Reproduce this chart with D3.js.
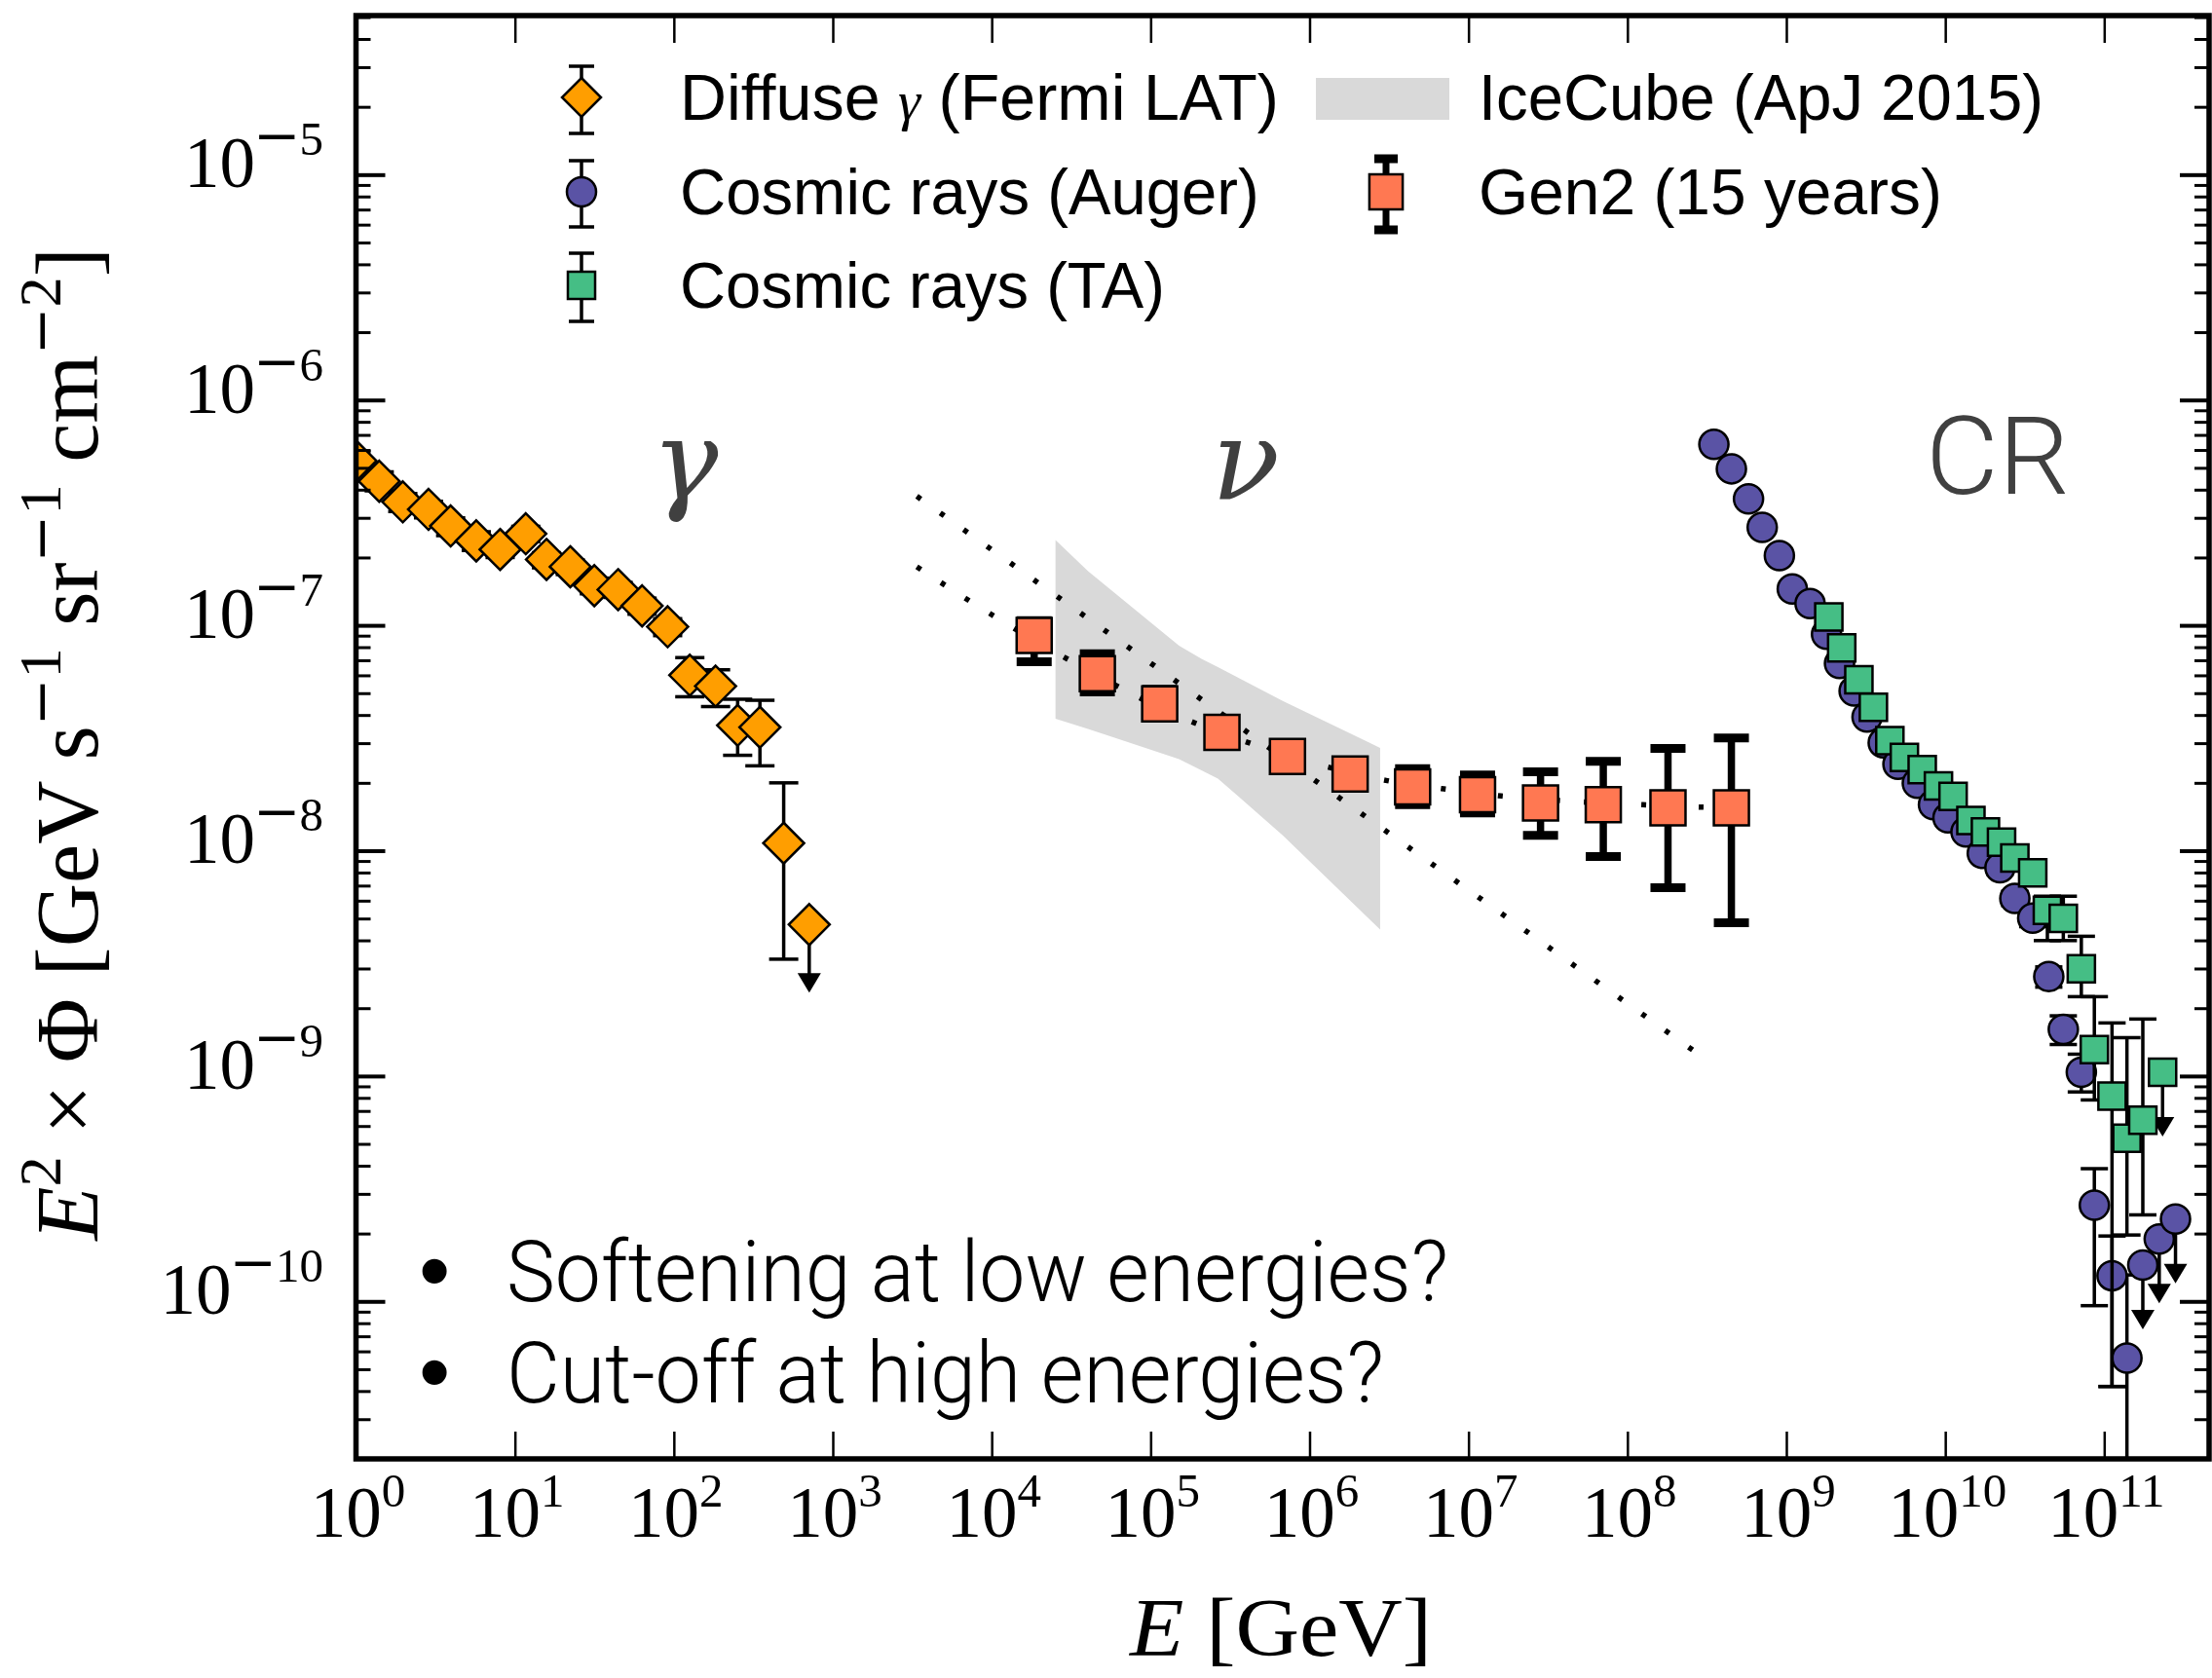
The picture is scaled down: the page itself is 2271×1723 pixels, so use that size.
<!DOCTYPE html>
<html><head><meta charset="utf-8">
<script src="https://cdn.jsdelivr.net/npm/d3@7"></script>
<style>body{margin:0;background:#fff}svg{display:block;background:#fff}</style>
</head><body>
<svg id="chart" width="2271" height="1723"></svg>
<script>
// ---------------- DATA ----------------
// Axis tick values
const xTickValues = [1e0,1e1,1e2,1e3,1e4,1e5,1e6,1e7,1e8,1e9,1e10,1e11];
const yTickValues = [1e-10,1e-9,1e-8,1e-7,1e-6,1e-5];
const xDomain = [1, 4.57e11];
const yDomain = [2.0e-11, 5.08e-5];

// Diffuse gamma (Fermi LAT)
const fermiE  = [1.00,1.40,1.97,2.86,3.94,5.71,8.07,11.7,15.8,22.3,31.6,44.6,63.1,91.4,126,183,252,348,491,711];
const fermiF  = [5.37e-7,4.36e-7,3.53e-7,3.27e-7,2.76e-7,2.37e-7,2.17e-7,2.55e-7,1.96e-7,1.82e-7,1.50e-7,1.44e-7,1.22e-7,9.86e-8,6.01e-8,5.37e-8,3.60e-8,3.53e-8,1.08e-8,4.70e-9];
const fermiHi = [5.9e-7,4.8e-7,3.85e-7,3.55e-7,3.0e-7,2.6e-7,2.35e-7,2.75e-7,2.1e-7,1.95e-7,1.62e-7,1.55e-7,1.32e-7,1.07e-7,7.19e-8,6.35e-8,4.70e-8,4.65e-8,2.00e-8,4.70e-9];
const fermiLo = [4.9e-7,3.95e-7,3.2e-7,3.0e-7,2.5e-7,2.15e-7,2.0e-7,2.35e-7,1.8e-7,1.68e-7,1.38e-7,1.33e-7,1.12e-7,9.0e-8,4.82e-8,4.36e-8,2.65e-8,2.38e-8,3.30e-9,4.70e-9];
const fermiUL = [0,0,0,0,0,0,0,0,0,0,0,0,0,0,0,0,0,0,0,1];

// Cosmic rays (Auger)
const augerE  = [3.50e8,4.51e8,5.78e8,7.05e8,9.04e8,1.09e9,1.41e9,1.79e9,2.16e9,2.67e9,3.22e9,4.07e9,5.04e9,6.67e9,8.43e9,1.04e10,1.35e10,1.71e10,2.21e10,2.74e10,3.55e10,4.48e10,5.53e10,7.18e10,8.67e10,1.12e11,1.39e11,1.75e11,2.22e11,2.81e11];
const augerF  = [6.35e-7,4.95e-7,3.64e-7,2.72e-7,2.04e-7,1.45e-7,1.25e-7,9.12e-8,6.78e-8,5.11e-8,3.92e-8,3.01e-8,2.42e-8,1.99e-8,1.60e-8,1.40e-8,1.21e-8,9.73e-9,8.40e-9,6.14e-9,5.02e-9,2.76e-9,1.61e-9,1.04e-9,2.67e-10,1.30e-10,5.60e-11,1.45e-10,1.89e-10,2.32e-10];
const augerHi = [6.55e-7,5.1e-7,3.75e-7,2.8e-7,2.1e-7,1.5e-7,1.29e-7,9.4e-8,7.0e-8,5.27e-8,4.05e-8,3.11e-8,2.5e-8,2.06e-8,1.66e-8,1.46e-8,1.27e-8,1.03e-8,8.95e-9,6.6e-9,5.45e-9,3.05e-9,1.85e-9,1.25e-9,3.88e-10,1.95e-10,1.31e-10,1.45e-10,1.89e-10,2.32e-10];
const augerLo = [6.15e-7,4.8e-7,3.53e-7,2.64e-7,1.98e-7,1.4e-7,1.21e-7,8.85e-8,6.56e-8,4.95e-8,3.79e-8,2.91e-8,2.34e-8,1.92e-8,1.54e-8,1.34e-8,1.15e-8,9.2e-9,7.85e-9,5.7e-9,4.6e-9,2.48e-9,1.38e-9,8.5e-10,9.57e-11,4.19e-11,1.0e-12,1.45e-10,1.89e-10,2.32e-10];
const augerUL = [0,0,0,0,0,0,0,0,0,0,0,0,0,0,0,0,0,0,0,0,0,0,0,0,0,0,0,1,1,1];

// Cosmic rays (TA)
const taE  = [1.85e9,2.23e9,2.86e9,3.53e9,4.48e9,5.53e9,7.16e9,9.06e9,1.12e10,1.45e10,1.79e10,2.26e10,2.74e10,3.55e10,4.39e10,5.53e10,7.18e10,8.67e10,1.12e11,1.39e11,1.75e11,2.33e11];
const taF  = [1.09e-7,7.94e-8,5.74e-8,4.33e-8,3.08e-8,2.59e-8,2.29e-8,1.94e-8,1.74e-8,1.36e-8,1.21e-8,1.09e-8,9.27e-9,7.98e-9,5.44e-9,5.01e-9,2.99e-9,1.31e-9,8.15e-10,5.30e-10,6.37e-10,1.04e-9];
const taHi = [1.13e-7,8.2e-8,5.93e-8,4.48e-8,3.2e-8,2.7e-8,2.39e-8,2.03e-8,1.83e-8,1.44e-8,1.29e-8,1.17e-8,1.0e-8,8.75e-9,6.28e-9,6.28e-9,4.17e-9,2.25e-9,1.72e-9,1.48e-9,1.79e-9,1.04e-9];
const taLo = [1.05e-7,7.68e-8,5.55e-8,4.18e-8,2.96e-8,2.48e-8,2.19e-8,1.85e-8,1.65e-8,1.28e-8,1.13e-8,1.01e-8,8.55e-9,7.25e-9,3.99e-9,3.99e-9,2.25e-9,7.83e-10,4.19e-11,1.97e-10,2.42e-10,1.04e-9];
const taUL = [0,0,0,0,0,0,0,0,0,0,0,0,0,0,0,0,0,0,0,0,0,1];

// Gen2 (15 years)
const gen2E  = [1.85e4,4.62e4,1.14e5,2.81e5,7.26e5,1.80e6,4.45e6,1.14e7,2.84e7,7.05e7,1.80e8,4.51e8];
const gen2F  = [9.02e-8,6.10e-8,4.48e-8,3.35e-8,2.62e-8,2.19e-8,1.92e-8,1.77e-8,1.63e-8,1.60e-8,1.55e-8,1.55e-8];
const gen2Hi = [1.05e-7,7.48e-8,5.2e-8,3.85e-8,3.0e-8,2.5e-8,2.31e-8,2.17e-8,2.24e-8,2.49e-8,2.84e-8,3.16e-8];
const gen2Lo = [6.90e-8,5.06e-8,3.9e-8,2.9e-8,2.3e-8,1.92e-8,1.60e-8,1.47e-8,1.17e-8,9.42e-9,6.85e-9,4.79e-9];

// IceCube (ApJ 2015) band
const icecubeE  = [2.52e4,4.04e4,1.51e5,2.09e5,2.65e5,6.78e5,2.78e6];
const icecubeHi = [2.39e-7,1.74e-7,8.13e-8,7.11e-8,6.52e-8,4.62e-8,2.86e-8];
const icecubeLo = [3.85e-8,3.47e-8,2.55e-8,2.27e-8,2.09e-8,1.17e-8,4.47e-9];

// Dotted neutrino model lines
const nuUpperE = [3.38e3,2.59e8];
const nuUpperF = [3.74e-7,1.30e-9];
const nuLowerE = [3.38e3,6.81e3,2.84e4,1.82e5,4.05e5,1.34e6,3.03e6,7.00e6,1.60e7,1.25e8,2.97e8,4.17e8];
const nuLowerF = [1.82e-7,1.32e-7,7.24e-8,3.73e-8,3.03e-8,2.34e-8,2.05e-8,1.88e-8,1.75e-8,1.60e-8,1.56e-8,1.55e-8];

// Texts
const legendLabels = ["Diffuse ", "γ", " (Fermi LAT)", "Cosmic rays (Auger)", "Cosmic rays (TA)", "IceCube (ApJ 2015)", "Gen2 (15 years)"];
const bulletLabels = ["Softening at low energies?", "Cut-off at high energies?"];
const regionLabels = ["γ", "ν", "CR"];

// ---------------- CHART ----------------
const svg = d3.select("#chart");
const PL = 365.5, PR = 2268, PT = 16, PB = 1498;
const x = d3.scaleLog().domain(xDomain).range([PL, PR]);
const y = d3.scaleLog().domain(yDomain).range([PB, PT]);

const C = {fermi:"#ff9e00", auger:"#5a53a5", ta:"#45be85", gen2:"#ff7852", band:"#d9d9d9", note:"#404040"};
const SERIF = "'Liberation Serif','Times New Roman',serif";
const MINUS_FONT = "'DejaVu Serif',serif";
const SANS = "'Liberation Sans',Arial,sans-serif";
const LIGHT = "Roboto,'Liberation Sans',sans-serif";

svg.append("defs").append("clipPath").attr("id","clip")
  .append("rect").attr("x",PL).attr("y",PT).attr("width",PR-PL).attr("height",PB-PT);
const plot = svg.append("g").attr("clip-path","url(#clip)");

const zip = (E,F) => E.map((e,i)=>({E:e, F:F[i]}));
const pts = (E,F,hi,lo,ul) => E.map((e,i)=>({E:e,F:F[i],hi:hi[i],lo:lo[i],ul:!!(ul && ul[i])}));

// IceCube band
plot.append("path")
  .datum(icecubeE.map((e,i)=>({E:e, hi:icecubeHi[i], lo:icecubeLo[i]})))
  .attr("d", d3.area().x(d=>x(d.E)).y0(d=>y(d.lo)).y1(d=>y(d.hi)))
  .attr("fill", C.band);

// Dotted lines
plot.append("path").datum(zip(nuUpperE,nuUpperF))
  .attr("d", d3.line().x(d=>x(d.E)).y(d=>y(d.F)))
  .attr("fill","none").attr("stroke","#000").attr("stroke-width",5.5).attr("stroke-dasharray","5 24.5");
plot.append("path").datum(zip(nuLowerE,nuLowerF))
  .attr("d", d3.line().x(d=>x(d.E)).y(d=>y(d.F)).curve(d3.curveMonotoneX))
  .attr("fill","none").attr("stroke","#000").attr("stroke-width",5.5).attr("stroke-dasharray","5 24.5");

function markerPath(shape, s) {
  if (shape==="diamond") return `M0,${-s}L${s},0L0,${s}L${-s},0Z`;
  if (shape==="square") return `M${-s},${-s}H${s}V${s}H${-s}Z`;
  if (shape==="rect") return `M${-s*0.95},${-s}H${s*0.95}V${s}H${-s*0.95}Z`;
  return d3.arc()({innerRadius:0,outerRadius:s,startAngle:0,endAngle:2*Math.PI});
}

function drawSeries(data, o) {
  const g = plot.append("g");
  const bars = g.append("g").attr("stroke","#000").attr("stroke-width",o.lw).attr("fill","#000");
  const normal = data.filter(d=>!d.ul), ul = data.filter(d=>d.ul);
  bars.selectAll("line.v").data(normal).join("line").attr("class","v")
    .attr("x1",d=>x(d.E)).attr("x2",d=>x(d.E)).attr("y1",d=>y(d.hi)).attr("y2",d=>y(d.lo));
  bars.selectAll("line.ct").data(normal).join("line").attr("class","ct").attr("stroke-width",o.capLw)
    .attr("x1",d=>x(d.E)-o.capW/2).attr("x2",d=>x(d.E)+o.capW/2).attr("y1",d=>y(d.hi)).attr("y2",d=>y(d.hi));
  bars.selectAll("line.cb").data(normal).join("line").attr("class","cb").attr("stroke-width",o.capLw)
    .attr("x1",d=>x(d.E)-o.capW/2).attr("x2",d=>x(d.E)+o.capW/2).attr("y1",d=>y(d.lo)).attr("y2",d=>y(d.lo));
  bars.selectAll("line.u").data(ul).join("line").attr("class","u")
    .attr("x1",d=>x(d.E)).attr("x2",d=>x(d.E)).attr("y1",d=>y(d.F)).attr("y2",d=>y(d.F)+o.arrow-10);
  bars.selectAll("path.h").data(ul).join("path").attr("class","h").attr("stroke","none")
    .attr("d",d=>{const cx=x(d.E), ty=y(d.F)+o.arrow; return `M${cx-12},${ty-20}L${cx+12},${ty-20}L${cx},${ty}Z`;});
  g.append("g").selectAll("path").data(data).join("path")
    .attr("transform",d=>`translate(${x(d.E)},${y(d.F)})`)
    .attr("d", markerPath(o.shape, o.size))
    .attr("fill", o.color).attr("stroke","#000").attr("stroke-width",2.5);
}

drawSeries(pts(fermiE,fermiF,fermiHi,fermiLo,fermiUL), {shape:"diamond", size:21, color:C.fermi, lw:3.5, capW:30, capLw:3.5, arrow:70});
drawSeries(pts(augerE,augerF,augerHi,augerLo,augerUL), {shape:"circle", size:15, color:C.auger, lw:3.5, capW:28, capLw:3.5, arrow:66});
drawSeries(pts(taE,taF,taHi,taLo,taUL), {shape:"square", size:14, color:C.ta, lw:3.5, capW:28, capLw:3.5, arrow:66});
drawSeries(pts(gen2E,gen2F,gen2Hi,gen2Lo,null), {shape:"square", size:18, color:C.gen2, lw:7.5, capW:36, capLw:9, arrow:0});

// ---------------- AXES ----------------
const yMinor = [];
for (let d=-11; d<=-5; d++) for (let m=2; m<=9; m++) { const v = m*Math.pow(10,d); if (v>yDomain[0] && v<yDomain[1]) yMinor.push(v); }

function styleAxis(g, w) {
  g.select(".domain").remove();
  g.selectAll(".tick line").attr("stroke","#000").attr("stroke-width",w);
  g.selectAll(".tick text").remove();
}
styleAxis(svg.append("g").attr("transform",`translate(0,${PB})`).call(d3.axisBottom(x).tickValues(xTickValues).tickSize(-28).tickFormat("")), 2.5);
styleAxis(svg.append("g").attr("transform",`translate(0,${PT})`).call(d3.axisTop(x).tickValues(xTickValues).tickSize(-28).tickFormat("")), 2.5);
styleAxis(svg.append("g").attr("transform",`translate(${PL},0)`).call(d3.axisLeft(y).tickValues(yTickValues).tickSize(-30).tickFormat("")), 4);
styleAxis(svg.append("g").attr("transform",`translate(${PL},0)`).call(d3.axisLeft(y).tickValues(yMinor).tickSize(-15).tickFormat("")), 3);
styleAxis(svg.append("g").attr("transform",`translate(${PR},0)`).call(d3.axisRight(y).tickValues(yTickValues).tickSize(-30).tickFormat("")), 4);
styleAxis(svg.append("g").attr("transform",`translate(${PR},0)`).call(d3.axisRight(y).tickValues(yMinor).tickSize(-15).tickFormat("")), 3);

svg.append("rect").attr("x",PL).attr("y",PT).attr("width",PR-PL).attr("height",PB-PT)
  .attr("fill","none").attr("stroke","#000").attr("stroke-width",5.5);

// ---------------- TICK LABELS (10^n) ----------------
function powerLabel(e) {
  const g = svg.append("g");
  const base = g.append("text").attr("font-family",SERIF).attr("font-size",73).attr("fill","#000").text("10");
  const ex = g.append("text").attr("font-family",SERIF).attr("font-size",49).attr("fill","#000");
  if (e < 0) {
    ex.append("tspan").attr("font-family",MINUS_FONT).attr("font-size",58).text("\u2212");
    ex.append("tspan").attr("dx",-1).text(String(-e));
  } else ex.text(String(e));
  return {base, ex, wb: base.node().getBBox().width, we: ex.node().getBBox().width};
}
xTickValues.forEach(v => {
  const L = powerLabel(Math.round(Math.log10(v)));
  const x0 = x(v) + 2 - (L.wb + L.we)/2;
  L.base.attr("x", x0).attr("y", 1578);
  L.ex.attr("x", x0 + L.wb).attr("y", 1547);
});
yTickValues.forEach(v => {
  const L = powerLabel(Math.round(Math.log10(v)));
  const xe = 332 - L.we;
  L.ex.attr("x", xe).attr("y", y(v) - 20);
  L.base.attr("x", xe - L.wb + 2).attr("y", y(v) + 13);
});

// ---------------- TEXT HELPER ----------------
function label(parent, o) {
  const g = parent.append("g");
  const t = g.append("text").attr("x",0).attr("y",0).attr("text-anchor",o.anchor||"start")
    .attr("font-size",o.size).attr("font-family",o.family).attr("fill",o.fill||"#000");
  if (o.weight) t.attr("font-weight",o.weight);
  if (o.style) t.attr("font-style",o.style);
  let rise = 0;
  o.parts.forEach(p => {
    const ts = t.append("tspan").text(p.t);
    const r = p.rise||0;
    if (r!==rise) { ts.attr("dy", -(r-rise)); rise = r; }
    if (p.size) ts.attr("font-size",p.size);
    if (p.style) ts.attr("font-style",p.style);
    if (p.family) ts.attr("font-family",p.family);
  });
  let sx = 1;
  if (o.width) { const bb = t.node().getBBox(); if (bb.width>0) sx = o.width/bb.width; }
  g.attr("transform",`translate(${o.x},${o.y}) rotate(${o.rotate||0}) scale(${sx},${o.sy||1})`);
  return g;
}

// axis titles
label(svg, {x:1315, y:1700, anchor:"middle", size:84, family:SERIF, width:311,
  parts:[{t:"E", style:"italic"},{t:" [GeV]"}]});
label(svg, {x:100, y:764, anchor:"middle", size:90, family:SERIF, width:1022, rotate:-90,
  parts:[{t:"E", style:"italic"},{t:"2", size:62, rise:38},{t:" \u00d7 \u03a6 [GeV s"},
         {t:"\u2212", size:58, rise:38, family:MINUS_FONT},{t:"1", size:62, rise:38},
         {t:" sr"},{t:"\u2212", size:58, rise:38, family:MINUS_FONT},{t:"1", size:62, rise:38},
         {t:" cm"},{t:"\u2212", size:58, rise:38, family:MINUS_FONT},{t:"2", size:62, rise:38},{t:"]"}]});

// ---------------- LEGEND ----------------
const leg = svg.append("g");
function legendHandle(cx, cy, top, bot, o) {
  const g = leg.append("g");
  g.append("line").attr("x1",cx).attr("x2",cx).attr("y1",top).attr("y2",bot).attr("stroke","#000").attr("stroke-width",o.lw);
  [top,bot].forEach(v => g.append("line").attr("x1",cx-o.capW/2).attr("x2",cx+o.capW/2).attr("y1",v).attr("y2",v)
    .attr("stroke","#000").attr("stroke-width",o.capLw));
  g.append("path").attr("transform",`translate(${cx},${cy})`).attr("d",markerPath(o.shape,o.size))
    .attr("fill",o.color).attr("stroke","#000").attr("stroke-width",2.5);
}
legendHandle(597,100,68,137,{shape:"diamond",size:20,color:C.fermi,lw:3.5,capW:26,capLw:3.5});
legendHandle(597,197,165,233,{shape:"circle",size:15,color:C.auger,lw:3.5,capW:26,capLw:3.5});
legendHandle(597,293,260,330,{shape:"square",size:14,color:C.ta,lw:3.5,capW:26,capLw:3.5});
legendHandle(1423,197,163,236,{shape:"rect",size:18,color:C.gen2,lw:7,capW:24,capLw:9});
leg.append("rect").attr("x",1351).attr("y",80).attr("width",137).attr("height",43).attr("fill",C.band);

label(leg, {x:698, y:123, size:66, family:SANS, width:615,
  parts:[{t:legendLabels[0]},{t:legendLabels[1], family:SERIF, style:"italic", size:58},{t:legendLabels[2]}]});
label(leg, {x:698, y:220, size:66, family:SANS, width:595, parts:[{t:legendLabels[3]}]});
label(leg, {x:698, y:316, size:66, family:SANS, width:498, parts:[{t:legendLabels[4]}]});
label(leg, {x:1518, y:123, size:66, family:SANS, width:580, parts:[{t:legendLabels[5]}]});
label(leg, {x:1518, y:220, size:66, family:SANS, width:476, parts:[{t:legendLabels[6]}]});

// ---------------- ANNOTATIONS ----------------
label(svg, {x:703, y:512, anchor:"middle", size:115, family:"'DejaVu Serif',serif", style:"italic", fill:C.note, parts:[{t:regionLabels[0]}]});
label(svg, {x:1279, y:512, anchor:"middle", size:115, family:"'DejaVu Serif',serif", style:"italic", fill:C.note, parts:[{t:regionLabels[1]}]});
label(svg, {x:2051, y:507, anchor:"middle", size:112, family:LIGHT, weight:300, fill:C.note, width:148, parts:[{t:regionLabels[2]}]});

[[1336, bulletLabels[0], 967],[1440, bulletLabels[1], 901]].forEach(([by, txt, w]) => {
  label(svg, {x:446, y:by, anchor:"middle", size:92, family:SANS, parts:[{t:"\u2022"}]});
  label(svg, {x:520, y:by, size:88, family:LIGHT, weight:300, width:w, parts:[{t:txt}]});
});
</script>
</body></html>
